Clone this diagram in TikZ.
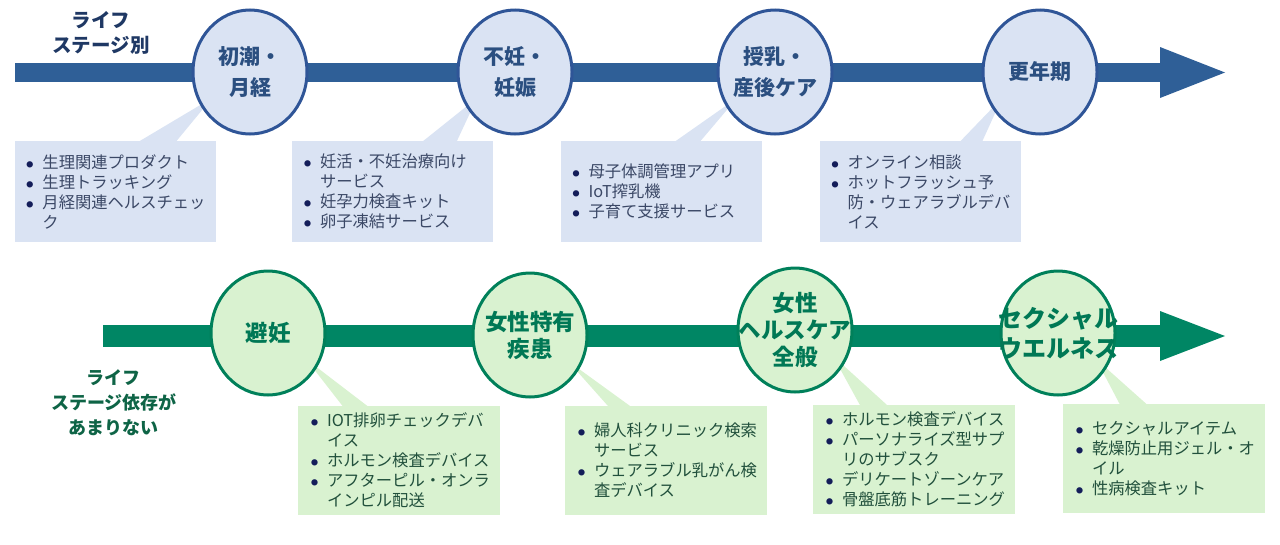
\documentclass[tikz,border=0pt]{standalone}
\usepackage{fontspec}
\setmainfont{Noto Sans CJK JP}
\usetikzlibrary{calc,shapes.geometric}
\definecolor{bandblue}{RGB}{47,95,151}
\definecolor{circblue}{RGB}{47,85,151}
\definecolor{fillblue}{RGB}{218,227,243}
\definecolor{txtblue}{RGB}{43,79,128}
\definecolor{lblblue}{RGB}{31,56,100}
\definecolor{boxtxtb}{RGB}{59,72,102}
\definecolor{bandgreen}{RGB}{0,134,100}
\definecolor{circgreen}{RGB}{0,128,90}
\definecolor{fillgreen}{RGB}{217,242,208}
\definecolor{txtgreen}{RGB}{0,120,85}
\definecolor{lblgreen}{RGB}{14,100,70}
\definecolor{boxtxtg}{RGB}{33,80,60}
\definecolor{bulc}{RGB}{20,30,90}
\newcommand\itm{\makebox[16pt][l]{\textcolor{bulc}{\raisebox{1pt}{\fontsize{7}{7}\selectfont ●}}}}
\newcommand\cnt{\hspace*{16pt}}
\begin{document}
\begin{tikzpicture}[x=1pt,y=-1pt,
  tcirc/.style={ellipse,draw=circblue,fill=fillblue,line width=3pt,minimum width=114pt,minimum height=124pt,inner sep=0pt},
  gcirc/.style={ellipse,draw=circgreen,fill=fillgreen,line width=3pt,minimum width=114pt,minimum height=124pt,inner sep=0pt},
  ttext/.style={align=center,text=txtblue,font=\bfseries\fontsize{21}{31}\selectfont},
  gtext/.style={align=center,text=txtgreen,font=\bfseries\fontsize{22.5}{27}\selectfont},
  tbox/.style={fill=fillblue,minimum width=201pt,minimum height=101pt,inner sep=0pt},
  gbox/.style={fill=fillgreen,minimum width=202pt,minimum height=109pt,inner sep=0pt},
  tlist/.style={anchor=west,align=left,inner sep=0pt,text=boxtxtb,font=\fontsize{16.3}{20}\selectfont},
  glist/.style={anchor=west,align=left,inner sep=0pt,text=boxtxtg,font=\fontsize{16.3}{20}\selectfont},
  lbl/.style={align=center,font=\bfseries\fontsize{18}{25}\selectfont}]
\useasboundingbox (0,0) rectangle (1280,544);
% labels
\node[lbl,text=lblblue,font=\bfseries\fontsize{19.5}{25}\selectfont] (tl) at (101,33) {ライフ\\ステージ別};
\node[lbl,text=lblgreen] (bl) at (114,403) {ライフ\\ステージ依存が\\あまりない};
% top band
\fill[bandblue] (15,63) rectangle (1162,82);
\fill[bandblue] (1160,47) -- (1225,72.5) -- (1160,98) -- cycle;
% bottom band
\fill[bandgreen] (103,325) rectangle (1162,347);
\fill[bandgreen] (1160,311) -- (1225,336) -- (1160,361) -- cycle;
% boxes
\node[tbox] (b1) at (115,191.5) {};
\node[tbox] (b2) at (392.5,191.5) {};
\node[tbox] (b3) at (661,191.5) {};
\node[tbox] (b4) at (920,191.5) {};
\node[gbox] (h1) at (399,460.5) {};
\node[gbox] (h2) at (666,460) {};
\node[gbox] (h3) at (914,459) {};
\node[gbox] (h4) at (1164,458.5) {};
% circle coordinates
\coordinate (c1p) at (250,72);
\coordinate (c2p) at (515,72);
\coordinate (c3p) at (775,72);
\coordinate (c4p) at (1040,72);
\coordinate (g1p) at (268,333);
\coordinate (g2p) at (530,335);
\coordinate (g3p) at (795,330);
\coordinate (g4p) at (1058,333);
% pointers top
\fill[fillblue] ($(b1.north west)+(125,0.5)$) -- ($(c1p)+(-38,26)$) -- ($(b1.north west)+(162,0.5)$) -- cycle;
\fill[fillblue] ($(b2.north west)+(131,0.5)$) -- ($(c2p)+(-38,26)$) -- ($(b2.north west)+(165,0.5)$) -- cycle;
\fill[fillblue] ($(b3.north west)+(115,0.5)$) -- ($(c3p)+(-38,26)$) -- ($(b3.north west)+(140,0.5)$) -- cycle;
\fill[fillblue] ($(b4.north west)+(141,0.5)$) -- ($(c4p)+(-38,26)$) -- ($(b4.north west)+(163,0.5)$) -- cycle;
% pointers bottom
\fill[fillgreen] ($(h1.north west)+(45,0.5)$) -- ($(g1p)+(38,26)$) -- ($(h1.north west)+(70,0.5)$) -- cycle;
\fill[fillgreen] ($(h2.north west)+(43,0.5)$) -- ($(g2p)+(38,26)$) -- ($(h2.north west)+(65,0.5)$) -- cycle;
\fill[fillgreen] ($(h3.north west)+(47,0.5)$) -- ($(g3p)+(38,26)$) -- ($(h3.north west)+(74,0.5)$) -- cycle;
\fill[fillgreen] ($(h4.north west)+(57,0.5)$) -- ($(g4p)+(38,26)$) -- ($(h4.north west)+(84,0.5)$) -- cycle;
% circles
\node[tcirc] (c1) at (c1p) {};
\node[tcirc] (c2) at (c2p) {};
\node[tcirc] (c3) at (c3p) {};
\node[tcirc] (c4) at (c4p) {};
\node[gcirc] (g1) at (g1p) {};
\node[gcirc] (g2) at (g2p) {};
\node[gcirc] (g3) at (g3p) {};
\node[gcirc] (g4) at (g4p) {};
\node[ttext] (c1t) at (c1) {初潮・\\月経};
\node[ttext] (c2t) at (c2) {不妊・\\妊娠};
\node[ttext] (c3t) at (c3) {授乳・\\産後ケア};
\node[ttext] (c4t) at (c4) {更年期};
\node[gtext] (g1t) at (g1) {避妊};
\node[gtext] (g2t) at (g2) {女性特有\\疾患};
\node[gtext] (g3t) at (g3) {女性\\ヘルスケア\\全般};
\node[gtext,font=\bfseries\fontsize{24}{30}\selectfont] (g4t) at (g4) {セクシャル\\ウエルネス};
% lists
\node[tlist] (b1t) at ($(b1.west)+(12,0)$) {\itm 生理関連プロダクト\\\itm 生理トラッキング\\\itm 月経関連ヘルスチェッ\\\cnt ク};
\node[tlist] (b2t) at ($(b2.west)+(12,0)$) {\itm 妊活・不妊治療向け\\\cnt サービス\\\itm 妊孕力検査キット\\\itm 卵子凍結サービス};
\node[tlist] (b3t) at ($(b3.west)+(12,0)$) {\itm 母子体調管理アプリ\\\itm IoT搾乳機\\\itm 子育て支援サービス};
\node[tlist] (b4t) at ($(b4.west)+(12,0)$) {\itm オンライン相談\\\itm ホットフラッシュ予\\\cnt 防・ウェアラブルデバ\\\cnt イス};
\node[glist] (h1t) at ($(h1.west)+(13,0)$) {\itm IOT排卵チェックデバ\\\cnt イス\\\itm ホルモン検査デバイス\\\itm アフターピル・オンラ\\\cnt インピル配送};
\node[glist] (h2t) at ($(h2.west)+(13,0)$) {\itm 婦人科クリニック検索\\\cnt サービス\\\itm ウェアラブル乳がん検\\\cnt 査デバイス};
\node[glist] (h3t) at ($(h3.west)+(13,0)$) {\itm ホルモン検査デバイス\\\itm パーソナライズ型サプ\\\cnt リのサブスク\\\itm デリケートゾーンケア\\\itm 骨盤底筋トレーニング};
\node[glist] (h4t) at ($(h4.west)+(13,0)$) {\itm セクシャルアイテム\\\itm 乾燥防止用ジェル・オ\\\cnt イル\\\itm 性病検査キット};
\end{tikzpicture}
\end{document}
